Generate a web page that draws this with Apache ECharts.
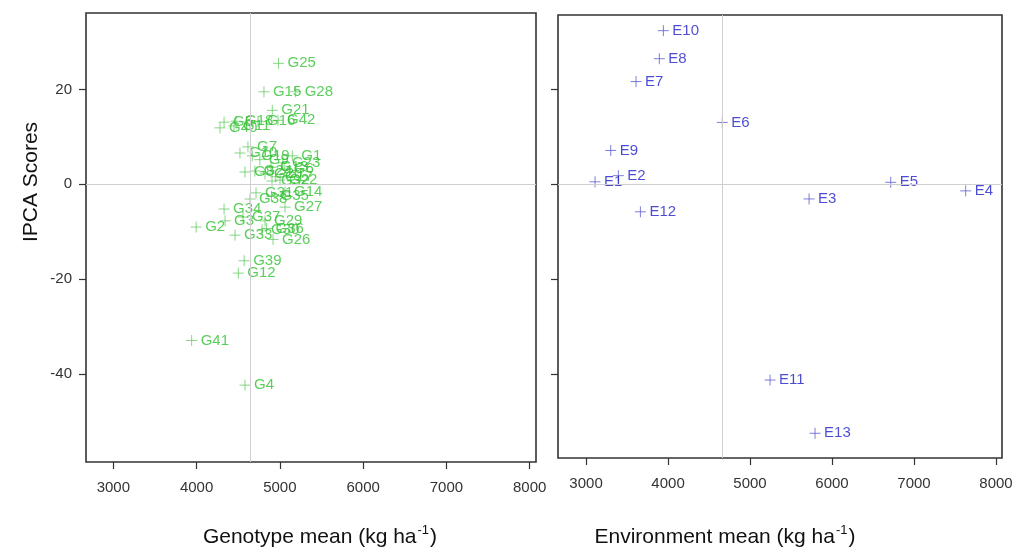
<!DOCTYPE html>
<html>
<head>
<meta charset="utf-8">
<script src="https://cdn.jsdelivr.net/npm/echarts@6/dist/echarts.min.js"></script>
<style>html,body{margin:0;padding:0;background:#fff}#c{width:1026px;height:548px}</style>
</head>
<body>
<div id="c"></div>
<script>
// Genotype IPCA scores vs genotype mean
const genoNames = ['G1','G2','G3','G4','G5','G6','G7','G8','G9','G10','G11','G12','G13','G14','G15','G16','G17','G18','G19','G20','G21','G22','G23','G24','G25','G26','G27','G28','G29','G30','G31','G32','G33','G34','G35','G36','G37','G38','G39','G40','G41','G42'];
const genoMean = [5150,3995,4342,4581,4330,5060,4617,4581,4760,4521,4450,4501,4893,5062,4809,4738,4950,4474,4669,4822,4909,5002,5037,4700,4984,4918,5062,5190,4822,4786,4714,4906,4462,4330,4900,4840,4558,4642,4571,4281,3941,4978];
const genoIPCA = [6.0,-9.0,-7.7,-42.3,13.1,3.2,7.9,2.6,5.2,6.6,12.3,-18.7,3.6,-1.6,19.5,13.3,1.6,13.3,6.0,2.2,15.6,0.9,4.5,2.8,25.5,-11.6,-4.8,19.5,-7.7,-9.6,-1.8,0.7,-10.7,-5.2,-2.5,-9.3,-6.9,-3.1,-16.1,11.9,-32.9,13.5];
// Environment IPCA scores vs environment mean
const envNames = ['E1','E2','E3','E4','E5','E6','E7','E8','E9','E10','E11','E12','E13'];
const envMean = [3110,3394,5720,7630,6716,4662,3610,3894,3301,3943,5244,3663,5793];
const envIPCA = [0.5,1.8,-3.1,-1.4,0.4,13.0,21.6,26.4,7.1,32.3,-41.2,-5.8,-52.4];
// grand mean reference lines
const grandMeanG = 4645;
const grandMeanE = 4660;
const xTicks = [3000,4000,5000,6000,7000,8000];
const yTicks = [-40,-20,0,20];

const plus = 'path://M0,5L10,5M5,0L5,10';
const txt = '#333';
const FONT = 'Liberation Sans, Arial, sans-serif';

function xAx(gi, min, max) {
  return {
    gridIndex: gi, type: 'value', min: min, max: max, position: 'bottom',
    axisLine: {show: false, onZero: false},
    splitLine: {show: false},
    axisTick: {show: true, length: 7, customValues: xTicks, lineStyle: {color: txt, width: 1.2}},
    axisLabel: {customValues: xTicks, formatter: v => String(v), color: txt, fontSize: 15, fontFamily: FONT, margin: 18}
  };
}
function yAx(gi, min, max, showLabel) {
  return {
    gridIndex: gi, type: 'value', min: min, max: max, position: 'left',
    axisLine: {show: false, onZero: false},
    splitLine: {show: false},
    axisTick: {show: true, length: 7, customValues: yTicks, lineStyle: {color: txt, width: 1.2}},
    axisLabel: {show: showLabel, customValues: yTicks, formatter: v => String(v), color: txt, fontSize: 15, fontFamily: FONT, margin: 14}
  };
}
function refLines(mean) {
  return {
    silent: true, symbol: 'none', label: {show: false},
    lineStyle: {color: '#cfcfcf', width: 1, type: 'solid'},
    data: [{xAxis: mean}, {yAxis: 0}]
  };
}

const chart = echarts.init(document.getElementById('c'), null, {renderer: 'canvas'});
chart.setOption({
  animation: false,
  backgroundColor: '#fff',
  grid: [
    {left: 86, top: 13, width: 450, height: 449, show: true, borderColor: '#333', borderWidth: 1.6, backgroundColor: 'transparent'},
    {left: 558, top: 15, width: 444, height: 443, show: true, borderColor: '#333', borderWidth: 1.6, backgroundColor: 'transparent'}
  ],
  xAxis: [xAx(0, 2672, 8076), xAx(1, 2658, 8073)],
  yAxis: [yAx(0, -58.5, 36.1, true), yAx(1, -57.6, 35.6, false)],
  series: [
    {
      type: 'scatter', xAxisIndex: 0, yAxisIndex: 0,
      symbol: plus, symbolSize: 11,
      itemStyle: {color: 'none', borderColor: '#66cc66', borderWidth: 1},
      label: {show: true, position: 'right', distance: 1, formatter: p => p.data[2], color: '#33c233', fontSize: 15, fontFamily: FONT},
      emphasis: {disabled: true},
      data: genoMean.map((v, i) => [v, genoIPCA[i], genoNames[i]]),
      markLine: refLines(grandMeanG)
    },
    {
      type: 'scatter', xAxisIndex: 1, yAxisIndex: 1,
      symbol: plus, symbolSize: 11,
      itemStyle: {color: 'none', borderColor: '#5e5ed2', borderWidth: 1},
      label: {show: true, position: 'right', distance: 1, formatter: p => p.data[2], color: '#1e1ec8', fontSize: 15, fontFamily: FONT},
      emphasis: {disabled: true},
      data: envMean.map((v, i) => [v, envIPCA[i], envNames[i]]),
      markLine: refLines(grandMeanE)
    }
  ],
  graphic: [
    {type: 'text', x: 31, y: 182, rotation: Math.PI / 2,
      style: {text: 'IPCA Scores', fill: '#111', font: '21px ' + FONT, align: 'center', verticalAlign: 'middle'}},
    {type: 'text', x: 320, y: 537,
      style: {text: '{a|Genotype mean (kg ha}{s|-1}{a|)}', align: 'center', verticalAlign: 'middle',
        rich: {a: {fill: '#111', fontSize: 21, fontFamily: FONT, lineHeight: 26}, s: {fill: '#111', fontSize: 13, fontFamily: FONT, lineHeight: 26, verticalAlign: 'top', padding: [0, 1, 12, 1]}}}},
    {type: 'text', x: 725, y: 537,
      style: {text: '{a|Environment mean (kg ha}{s|-1}{a|)}', align: 'center', verticalAlign: 'middle',
        rich: {a: {fill: '#111', fontSize: 21, fontFamily: FONT, lineHeight: 26}, s: {fill: '#111', fontSize: 13, fontFamily: FONT, lineHeight: 26, verticalAlign: 'top', padding: [0, 1, 12, 1]}}}}
  ]
});
</script>
</body>
</html>
